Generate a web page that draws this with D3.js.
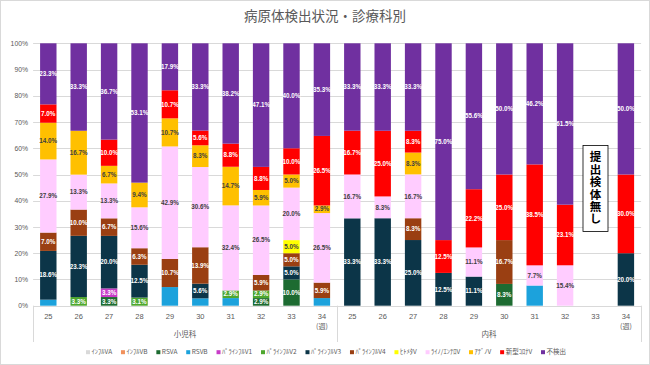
<!DOCTYPE html>
<html><head><meta charset="utf-8">
<script src="https://cdn.jsdelivr.net/npm/d3@7"></script>
<style>
html,body{margin:0;padding:0;background:#fff;}
svg{display:block;}
</style></head>
<body>
<svg id="chart" width="650" height="365"></svg>
<script>
// ---- data ----
const title = "病原体検出状況・診療科別";
const weeks = ["25","26","27","28","29","30","31","32","33","34"];
const groups = ["小児科","内科"];
const weekUnit = "(週)";
const noSampleText = "提出検体無し";
const noSampleGroup = "内科";
const noSampleWeek = "33";
const seriesNames = ["ｲﾝﾌﾙVA","ｲﾝﾌﾙVB","RSVA","RSVB","ﾊﾟﾗｲﾝﾌﾙV1","ﾊﾟﾗｲﾝﾌﾙV2","ﾊﾟﾗｲﾝﾌﾙV3","ﾊﾟﾗｲﾝﾌﾙV4","ﾋﾄﾒﾀV","ﾗｲﾉ/ｴﾝﾃﾛV","ｱﾃﾞﾉV","新型ｺﾛﾅV","不検出"];
// values (%): first 10 = 小児科 weeks 25-34, last 10 = 内科 weeks 25-34
const fluA   = [0,0,0,0,0,0,0,0,0,0,            0,0,0,0,0,0,0,0,null,0];
const fluB   = [0,0,0,0,0,0,0,0,0,0,            0,0,0,0,0,0,0,0,null,0];
const rsvA   = [0,0,3.3,0,0,0,0,2.9,10.0,0,     0,0,0,0,0,8.3,0,0,null,0];
const rsvB   = [2.3,0,0,0,7.1,2.8,2.9,0,0,2.9,  0,0,0,0,0,0,7.7,0,null,0];
const para1  = [0,0,3.3,0,0,0,0,0,0,0,          0,0,0,0,0,0,0,0,null,0];
const para2  = [0,3.3,0,3.1,0,0,2.9,2.9,0,0,    0,0,0,0,0,0,0,0,null,0];
const para3  = [18.6,23.3,20.0,12.5,0,5.6,0,0,5.0,0,   33.3,33.3,25.0,12.5,11.1,0,0,0,null,20.0];
const para4  = [7.0,10.0,6.7,6.3,10.7,13.9,0,5.9,5.0,5.9, 0,0,8.3,0,0,16.7,0,0,null,0];
const hmpv   = [0,0,0,0,0,0,0,0,5.0,0,          0,0,0,0,0,0,0,0,null,0];
const rhino  = [27.9,13.3,13.3,15.6,42.9,30.6,32.4,26.5,20.0,26.5, 16.7,8.3,16.7,0,11.1,0,7.7,15.4,null,0];
const adeno  = [14.0,16.7,6.7,9.4,10.7,8.3,14.7,5.9,5.0,2.9, 0,0,8.3,0,0,0,0,0,null,0];
const covid  = [7.0,0,10.0,0,10.7,5.6,8.8,8.8,10.0,26.5, 16.7,25.0,8.3,12.5,22.2,25.0,38.5,23.1,null,30.0];
const none   = [23.3,33.3,36.7,53.1,17.9,33.3,38.2,47.1,40.0,35.3, 33.3,33.3,33.3,75.0,55.6,50.0,46.2,61.5,null,50.0];
const yTicks = [0,0.1,0.2,0.3,0.4,0.5,0.6,0.7,0.8,0.9,1.0];

// ---- styles (kept apart from data) ----
const colors = ["#d9d9d9","#f1915c","#1d6b31","#1ca2dc","#c83cc8","#4ea72e","#0c3548","#9a3f12","#ffff00","#ffccff","#ffc000","#ff0000","#7030a0"];
const labelColors = ["#404040","#ffffff","#ffffff",null,"#ffffff","#ffffff","#ffffff","#ffffff","#404040","#404040","#404040","#ffffff","#ffffff"];
const txt = "#595959";
const grid = "#d9d9d9";
const cjk = "'Noto Sans CJK JP','Noto Sans',sans-serif";
const lat = "'Liberation Sans',Arial,sans-serif";

const allSeries = [fluA,fluB,rsvA,rsvB,para1,para2,para3,para4,hmpv,rhino,adeno,covid,none];

const rows = [];
groups.forEach((g,gi)=>weeks.forEach((w,wi)=>{
  const r = {key:g+"-"+w, group:g, week:w};
  seriesNames.forEach((s,si)=>{ const v = allSeries[si][gi*weeks.length+wi]; r[s] = v==null?0:v; });
  rows.push(r);
}));

const svg = d3.select("#chart");
svg.append("rect").attr("x",0.5).attr("y",0.5).attr("width",649).attr("height",364)
  .attr("fill","#fff").attr("stroke","#d9d9d9");

const pLeft = 33.1, pRight = 641.1, pTop = 43.3, pBottom = 305.7;
const x = d3.scaleBand().domain(rows.map(d=>d.key)).range([pLeft,pRight]).paddingInner(0.46).paddingOuter(0.23);
const y = d3.scaleLinear().domain([0,1]).range([pBottom,pTop]);

svg.append("text").attr("x",325).attr("y",21).attr("text-anchor","middle")
  .attr("font-family",cjk).attr("font-size",13.5).attr("fill",txt).text(title);

svg.append("g").selectAll("line").data(yTicks).join("line")
  .attr("x1",pLeft).attr("x2",pRight).attr("y1",d=>Math.round(y(d))+0.5).attr("y2",d=>Math.round(y(d))+0.5)
  .attr("stroke",grid).attr("stroke-width",1);

const yAxis = d3.axisLeft(y).tickValues(yTicks).tickFormat(d3.format(".0%")).tickSize(0).tickPadding(0);
const ya = svg.append("g").attr("transform","translate(28,0)").call(yAxis);
ya.select(".domain").remove();
ya.selectAll("text").attr("font-family",lat).attr("font-size",6.8).attr("fill",txt);

const stack = d3.stack().keys(seriesNames).offset(d3.stackOffsetExpand);
const stacked = stack(rows);
const bw = x.bandwidth();
const layers = svg.append("g").selectAll("g").data(stacked).join("g").attr("fill",(d,i)=>colors[i]);
layers.selectAll("rect").data(d=>d.filter(p=>p[1]-p[0]>0)).join("rect")
  .attr("x",p=>x(p.data.key)).attr("width",bw)
  .attr("y",p=>y(p[1])).attr("height",p=>y(p[0])-y(p[1]));

const lbl = svg.append("g").attr("font-family",lat).attr("font-size",6.3).attr("font-weight","bold").attr("text-anchor","middle");
stacked.forEach((layer,si)=>{
  if(!labelColors[si]) return;
  layer.forEach(p=>{
    const v = p.data[layer.key];
    if(!(v>0)) return;
    lbl.append("text").attr("x",x(p.data.key)+bw/2).attr("y",(y(p[0])+y(p[1]))/2).attr("dy","0.35em")
      .attr("fill",labelColors[si]).text(v.toFixed(1)+"%");
  });
});

const xa = svg.append("g").attr("font-family",lat).attr("font-size",7.5).attr("fill",txt).attr("text-anchor","middle");
rows.forEach(r=>{
  xa.append("text").attr("x",x(r.key)+bw/2).attr("y",319).text(r.week);
});
groups.forEach(g=>{
  xa.append("text").attr("x",x(g+"-"+weeks[weeks.length-1])+bw/2).attr("y",329)
    .attr("font-family",cjk).attr("font-size",7).text(weekUnit);
});
const step = x.step();
const divs = [pLeft, pLeft+step*weeks.length, pRight];
svg.append("g").selectAll("line").data(divs).join("line")
  .attr("x1",d=>Math.round(d)+0.5).attr("x2",d=>Math.round(d)+0.5).attr("y1",pBottom).attr("y2",342)
  .attr("stroke",grid);
groups.forEach((g,gi)=>{
  svg.append("text").attr("x",(divs[gi]+divs[gi+1])/2).attr("y",337).attr("text-anchor","middle")
    .attr("font-family",cjk).attr("font-size",7.5).attr("fill",txt).text(g);
});

{
  const bx = x(noSampleGroup+"-"+noSampleWeek)+bw/2;
  svg.append("rect").attr("x",bx-12.5).attr("y",145.5).attr("width",25).attr("height",86)
    .attr("fill","#fff").attr("stroke","#000").attr("stroke-width",0.8);
  svg.append("text").attr("x",bx).attr("y",188.5)
    .attr("font-family",cjk).attr("font-size",11.5).attr("font-weight","bold").attr("fill","#000")
    .attr("text-anchor","middle").attr("dominant-baseline","central")
    .style("writing-mode","vertical-rl").style("letter-spacing","0.9px")
    .text(noSampleText);
}

const lg = svg.append("g").attr("font-family",cjk).attr("font-size",6.5).attr("fill",txt);
const items = seriesNames.map((s,i)=>{
  const g = lg.append("g");
  g.append("rect").attr("width",4).attr("height",4).attr("y",-3.8).attr("fill",colors[i]);
  const tt = g.append("text").attr("x",5.5).attr("y",0).text(s);
  return {g, w:5.5+tt.node().getComputedTextLength()};
});
const lx0 = 86, lx1 = 566;
const totalW = d3.sum(items,d=>d.w);
const gap = (lx1-lx0-totalW)/(items.length-1);
let lx = lx0;
items.forEach(it=>{ it.g.attr("transform",`translate(${lx},354)`); lx += it.w+gap; });
</script>
</body></html>
